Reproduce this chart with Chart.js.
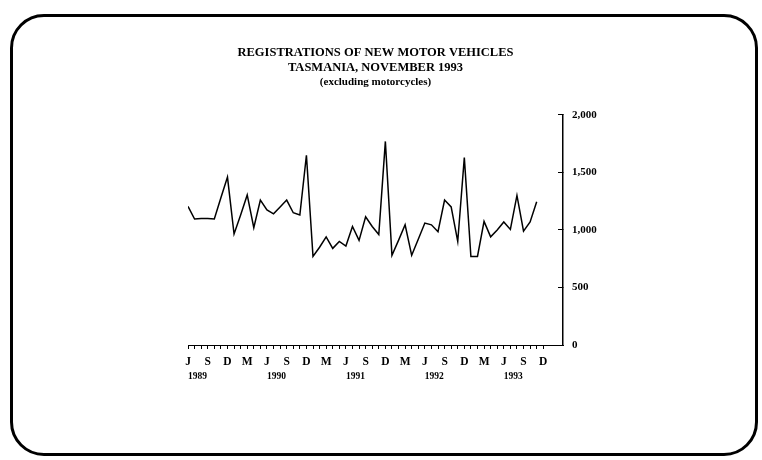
<!DOCTYPE html>
<html>
<head>
<meta charset="utf-8">
<script src="https://cdn.jsdelivr.net/npm/chart.js@4"></script>
<style>
  html, body { margin: 0; padding: 0; background: #fff; }
  #wrap { position: relative; width: 762px; height: 460px; overflow: hidden; }
  #frame { position: absolute; left: 10px; top: 14px; width: 742px; height: 436px; border: 3px solid #000; border-radius: 34px; pointer-events: none; }
  canvas { position: absolute; left: 0; top: 0; }
</style>
</head>
<body>
<div id="wrap">
  <canvas id="chart1" width="762" height="460"></canvas>
  <div id="frame"></div>
</div>
<script>
// quarterly tick letters, June 1989 to December 1993
var quarterLabels = ['J', 'S', 'D', 'M', 'J', 'S', 'D', 'M', 'J', 'S', 'D', 'M', 'J', 'S', 'D', 'M', 'J', 'S', 'D'];

var yearLabels = ['1989', '1990', '1991', '1992', '1993'];

var titleLines = ['REGISTRATIONS OF NEW MOTOR VEHICLES', 'TASMANIA, NOVEMBER 1993'];

// monthly registrations, June 1989 to November 1993
var registrations = [
  1205, 1095, 1100, 1100, 1095, 1280, 1460, 965, 1130, 1305, 1020, 1260,
  1175, 1140, 1200, 1260, 1150, 1130, 1650, 770, 850, 940, 840, 900,
  860, 1030, 910, 1115, 1030, 960, 1770, 780, 910, 1045, 780, 920,
  1060, 1045, 985, 1260, 1200, 900, 1630, 770, 770, 1075, 940, 1000,
  1070, 1005, 1300, 990, 1070, 1245
];

var serif = "'Liberation Serif', 'Times New Roman', serif";

var chart1 = new Chart(
  document.getElementById('chart1'),
  {
    type: 'line',
    data: {
      datasets: [
        {
          data: registrations.map(function (v, i) { return { x: i, y: v }; }),
          borderColor: '#000',
          borderWidth: 1.5,
          pointRadius: 0,
          tension: 0,
          fill: false
        }
      ]
    },
    options: {
      responsive: false,
      animation: false,
      layout: { padding: { left: 188, right: 139, top: 0, bottom: 0 } },
      plugins: {
        legend: { display: false },
        tooltip: { enabled: false },
        title: {
          display: true,
          fullSize: false,
          text: titleLines,
          color: '#000',
          font: { family: serif, size: 12.5, weight: 'bold', lineHeight: 1.16 },
          padding: { top: 46, bottom: 0 }
        },
        subtitle: {
          display: true,
          fullSize: false,
          text: '(excluding motorcycles)',
          color: '#000',
          font: { family: serif, size: 11, weight: 'bold', lineHeight: 1.27 },
          padding: { top: 0, bottom: 26 }
        }
      },
      scales: {
        x: {
          type: 'linear',
          min: 0,
          max: 57,
          weight: 0,
          ticks: {
            stepSize: 1,
            autoSkip: false,
            maxRotation: 0,
            padding: 6,
            color: '#000',
            font: { family: serif, size: 11.5, weight: 'bold' },
            callback: function (v) {
              if (v % 3 === 0 && v / 3 < quarterLabels.length) return quarterLabels[v / 3];
              return '';
            }
          },
          grid: {
            drawOnChartArea: false,
            tickLength: 4,
            color: function (c) { return c.tick && c.tick.value <= 54 ? '#000' : 'rgba(0,0,0,0)'; }
          },
          border: { display: true, color: '#000', width: 1, dash: [4, 2] },
          afterFit: function (s) { s.height = 20; }
        },
        x2: {
          type: 'linear',
          position: 'bottom',
          min: 0,
          max: 57,
          weight: 1,
          ticks: {
            stepSize: 12,
            autoSkip: false,
            maxRotation: 0,
            align: 'start',
            padding: 6,
            color: '#000',
            font: { family: serif, size: 9.5, weight: 'bold' },
            callback: function (v) {
              if (v % 12 === 0 && v / 12 < yearLabels.length) return yearLabels[v / 12];
              return '';
            }
          },
          grid: { display: false, drawTicks: false },
          border: { display: false },
          afterFit: function (s) { s.height = 95; }
        },
        y: {
          position: 'right',
          min: 0,
          max: 2000,
          ticks: {
            stepSize: 500,
            padding: 14,
            color: '#000',
            font: { family: serif, size: 11, weight: 'bold' }
          },
          grid: { drawOnChartArea: false, tickLength: -5, color: '#000' },
          border: { color: '#000', width: 1.5 },
          afterFit: function (s) { s.width = 60; }
        }
      }
    }
  }
);
</script>
</body>
</html>
